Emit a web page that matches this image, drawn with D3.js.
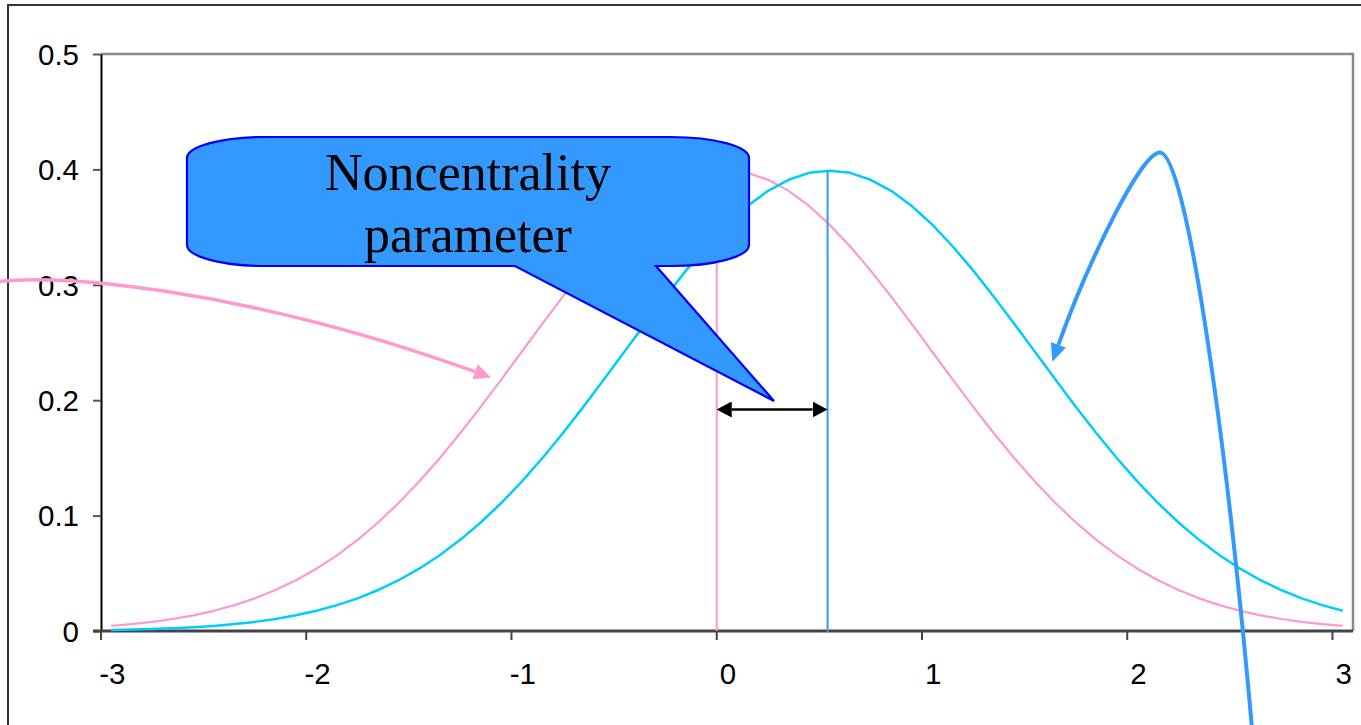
<!DOCTYPE html>
<html>
<head>
<meta charset="utf-8">
<script src="https://cdn.jsdelivr.net/npm/d3@7/dist/d3.min.js"></script>
<style>
  html, body { margin: 0; padding: 0; background: #ffffff; overflow: hidden; }
  svg { display: block; }
</style>
</head>
<body>
<svg id="chart" width="1361" height="725"></svg>
<script>
// Category positions along the horizontal axis (one point per 0.1)
const categories = [
  -3.0, -2.9, -2.8, -2.7, -2.6, -2.5, -2.4, -2.3, -2.2, -2.1,
  -2.0, -1.9, -1.8, -1.7, -1.6, -1.5, -1.4, -1.3, -1.2, -1.1,
  -1.0, -0.9, -0.8, -0.7, -0.6, -0.5, -0.4, -0.3, -0.2, -0.1,
   0.0,  0.1,  0.2,  0.3,  0.4,  0.5,  0.6,  0.7,  0.8,  0.9,
   1.0,  1.1,  1.2,  1.3,  1.4,  1.5,  1.6,  1.7,  1.8,  1.9,
   2.0,  2.1,  2.2,  2.3,  2.4,  2.5,  2.6,  2.7,  2.8,  2.9,
   3.0
];

// Central density (pink)
const centralDensity = [
  0.0044, 0.0060, 0.0079, 0.0104, 0.0136, 0.0175, 0.0224, 0.0283, 0.0355, 0.0440,
  0.0540, 0.0656, 0.0790, 0.0940, 0.1109, 0.1295, 0.1497, 0.1714, 0.1942, 0.2179,
  0.2420, 0.2661, 0.2897, 0.3123, 0.3332, 0.3521, 0.3683, 0.3814, 0.3910, 0.3970,
  0.3989, 0.3970, 0.3910, 0.3814, 0.3683, 0.3521, 0.3332, 0.3123, 0.2897, 0.2661,
  0.2420, 0.2179, 0.1942, 0.1714, 0.1497, 0.1295, 0.1109, 0.0940, 0.0790, 0.0656,
  0.0540, 0.0440, 0.0355, 0.0283, 0.0224, 0.0175, 0.0136, 0.0104, 0.0079, 0.0060,
  0.0044
];

// Shifted (noncentral) density (cyan)
const shiftedDensity = [
  0.0009, 0.0012, 0.0017, 0.0024, 0.0033, 0.0044, 0.0060, 0.0079, 0.0104, 0.0136,
  0.0175, 0.0224, 0.0283, 0.0355, 0.0440, 0.0540, 0.0656, 0.0790, 0.0940, 0.1109,
  0.1295, 0.1497, 0.1714, 0.1942, 0.2179, 0.2420, 0.2661, 0.2897, 0.3123, 0.3332,
  0.3521, 0.3683, 0.3814, 0.3910, 0.3970, 0.3989, 0.3970, 0.3910, 0.3814, 0.3683,
  0.3521, 0.3332, 0.3123, 0.2897, 0.2661, 0.2420, 0.2179, 0.1942, 0.1714, 0.1497,
  0.1295, 0.1109, 0.0940, 0.0790, 0.0656, 0.0540, 0.0440, 0.0355, 0.0283, 0.0224,
  0.0175
];

const xTickLabels = [-3, -2, -1, 0, 1, 2, 3];
const yTickValues = [0, 0.1, 0.2, 0.3, 0.4, 0.5];
const yTickLabels = ["0", "0.1", "0.2", "0.3", "0.4", "0.5"];

// Mean markers (vertical lines) and the noncentrality bracket between them
const centralMarker = -0.05;
const shiftedMarker = 0.49;
const markerTop = 0.3989;

const calloutLines = ["Noncentrality", "parameter"];

// ---------------------------------------------------------------------------
const svg = d3.select("#chart");
const halfStep = 0.05;

const x = d3.scaleLinear()
  .domain([categories[0] - halfStep, categories[categories.length - 1] + halfStep])
  .range([101, 1353]);
const y = d3.scaleLinear().domain([0, 0.5]).range([631, 54]);

const PINK = "#FF99CC";
const CYAN = "#00CCFF";
const BLUE = "#3399FF";

const defs = svg.append("defs");
function arrowMarker(id, color, len, wid) {
  defs.append("marker")
    .attr("id", id)
    .attr("markerUnits", "userSpaceOnUse")
    .attr("viewBox", `0 ${-wid / 2} ${len} ${wid}`)
    .attr("refX", 0).attr("refY", 0)
    .attr("markerWidth", len).attr("markerHeight", wid)
    .attr("orient", "auto-start-reverse")
    .append("path")
    .attr("d", `M0,${-wid / 2} L${len},0 L0,${wid / 2} Z`)
    .attr("fill", color);
}
arrowMarker("head-pink", PINK, 17, 16);
arrowMarker("head-blue", BLUE, 18, 16);
arrowMarker("head-black", "#000000", 15, 16);

// Outer chart frame
svg.append("path")
  .attr("d", "M8,740 L8,5 L1370,5")
  .attr("fill", "none").attr("stroke", "#333333").attr("stroke-width", 2);

// Plot-area frame (top and right edges)
svg.append("path")
  .attr("d", `M${x.range()[0]},${y(0.5)} L${x.range()[1]},${y(0.5)} L${x.range()[1]},${y(0)}`)
  .attr("fill", "none").attr("stroke", "#888888").attr("stroke-width", 2.5);

// Y axis
const yAxis = d3.axisLeft(y)
  .tickValues(yTickValues)
  .tickFormat((d, i) => yTickLabels[i])
  .tickSize(8).tickSizeOuter(0).tickPadding(14);
const gy = svg.append("g").attr("transform", `translate(${x.range()[0]},0)`).call(yAxis);
gy.select(".domain").attr("stroke", "#000").attr("stroke-width", 2);
gy.selectAll(".tick line").attr("stroke", "#555").attr("stroke-width", 2);
gy.selectAll(".tick text")
  .attr("font-family", "'Liberation Sans', Arial, sans-serif")
  .attr("font-size", 29.5).attr("fill", "#000").attr("dy", "0.35em");

// X axis: ticks on category boundaries, labels on category centres
const gx = svg.append("g");
gx.append("line")
  .attr("x1", x.range()[0] - 8).attr("x2", x.range()[1])
  .attr("y1", y(0)).attr("y2", y(0))
  .attr("stroke", "#444").attr("stroke-width", 3);
gx.selectAll("line.tick").data(xTickLabels).join("line")
  .attr("class", "tick")
  .attr("x1", d => x(d - halfStep)).attr("x2", d => x(d - halfStep))
  .attr("y1", y(0)).attr("y2", y(0) + 9)
  .attr("stroke", "#444").attr("stroke-width", 2);
gx.selectAll("text").data(xTickLabels).join("text")
  .attr("x", d => x(d) + 1).attr("y", 684)
  .attr("text-anchor", "middle")
  .attr("font-family", "'Liberation Sans', Arial, sans-serif")
  .attr("font-size", 29.5).attr("fill", "#000")
  .text(d => d);

// Density curves
const line = d3.line().x((d, i) => x(categories[i])).y(d => y(d));
svg.append("path").datum(centralDensity)
  .attr("d", line).attr("fill", "none")
  .attr("stroke", PINK).attr("stroke-width", 2.2).attr("stroke-linejoin", "round");
svg.append("path").datum(shiftedDensity)
  .attr("d", line).attr("fill", "none")
  .attr("stroke", CYAN).attr("stroke-width", 2.5).attr("stroke-linejoin", "round");

// Mean markers
svg.append("line")
  .attr("x1", x(centralMarker)).attr("x2", x(centralMarker))
  .attr("y1", y(markerTop)).attr("y2", y(0))
  .attr("stroke", PINK).attr("stroke-width", 2);
svg.append("line")
  .attr("x1", x(shiftedMarker)).attr("x2", x(shiftedMarker))
  .attr("y1", y(markerTop)).attr("y2", y(0) + 1)
  .attr("stroke", BLUE).attr("stroke-width", 2);

// Bracket between the two means
svg.append("line")
  .attr("x1", x(centralMarker) + 15).attr("x2", x(shiftedMarker) - 15)
  .attr("y1", 409.5).attr("y2", 409.5)
  .attr("stroke", "#000").attr("stroke-width", 2.5)
  .attr("marker-start", "url(#head-black)")
  .attr("marker-end", "url(#head-black)");

// Callout balloon
const cL = 187, cR = 749, cT = 137, cB = 266, rx = 78, ry = 21;
const tipX = 774, tipY = 401, baseL = 515, baseR = 656;
const balloon = [
  `M${cL + rx},${cT}`, `L${cR - rx},${cT}`,
  `A${rx},${ry} 0 0 1 ${cR},${cT + ry}`, `L${cR},${cB - ry}`,
  `A${rx},${ry} 0 0 1 ${cR - rx},${cB}`, `L${baseR},${cB}`,
  `L${tipX},${tipY}`, `L${baseL},${cB}`, `L${cL + rx},${cB}`,
  `A${rx},${ry} 0 0 1 ${cL},${cB - ry}`, `L${cL},${cT + ry}`,
  `A${rx},${ry} 0 0 1 ${cL + rx},${cT}`, "Z"
].join(" ");
svg.append("path").attr("d", balloon)
  .attr("fill", "#3399FF").attr("stroke", "#0000FF").attr("stroke-width", 2.2)
  .attr("stroke-linejoin", "miter");
svg.append("g").selectAll("text").data(calloutLines).join("text")
  .attr("x", 468).attr("y", (d, i) => 190 + i * 62)
  .attr("text-anchor", "middle")
  .attr("font-family", "'Liberation Serif', 'Times New Roman', serif")
  .attr("font-size", 52).attr("fill", "#000")
  .text(d => d);

// Pink curved pointer
const pinkPointer = d3.path();
pinkPointer.moveTo(-20, 285);
pinkPointer.bezierCurveTo(40, 268, 250, 290, 475, 371.7);
svg.append("path")
  .attr("d", pinkPointer.toString())
  .attr("fill", "none").attr("stroke", PINK).attr("stroke-width", 3.5)
  .attr("marker-end", "url(#head-pink)");

// Blue curved pointer
const bluePointer = d3.path();
bluePointer.moveTo(1253, 740);
bluePointer.bezierCurveTo(1225, 420, 1185, 152.5, 1160, 152.5);
bluePointer.bezierCurveTo(1140, 152.5, 1085, 270, 1058.4, 344.8);
svg.append("path")
  .attr("d", bluePointer.toString())
  .attr("fill", "none").attr("stroke", BLUE).attr("stroke-width", 4)
  .attr("marker-end", "url(#head-blue)");
</script>
</body>
</html>
